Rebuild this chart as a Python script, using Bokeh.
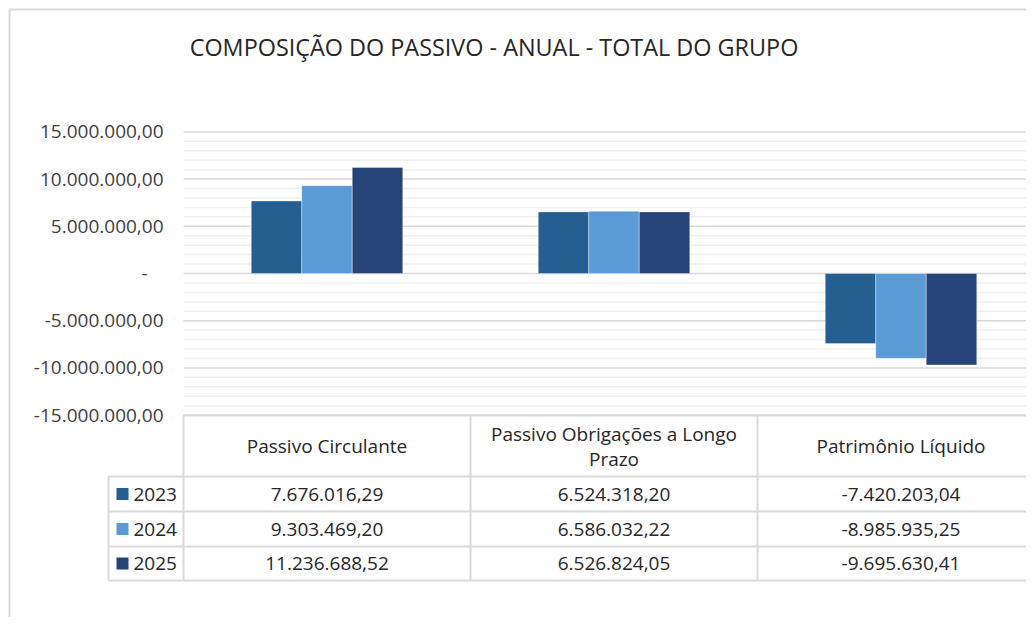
from bokeh.plotting import figure
from bokeh.models import Range1d
from bokeh.core.properties import value
from bokeh.embed import file_html
from bokeh.resources import INLINE

# ---------------- data ----------------
title = "COMPOSIÇÃO DO PASSIVO - ANUAL - TOTAL DO GRUPO"
categories = ["Passivo Circulante", "Passivo Obrigações a Longo Prazo", "Patrimônio Líquido"]
header_labels = ["Passivo Circulante", "Passivo Obrigações a Longo\nPrazo", "Patrimônio Líquido"]
years = ["2023", "2024", "2025"]
values_2023 = [7676016.29, 6524318.20, -7420203.04]
values_2024 = [9303469.20, 6586032.22, -8985935.25]
values_2025 = [11236688.52, 6526824.05, -9695630.41]
series = [values_2023, values_2024, values_2025]
colors = ["#255E91", "#5B9BD5", "#264478"]
y_ticks = [-15e6, -10e6, -5e6, 0, 5e6, 10e6, 15e6]
y_tick_labels = ["-15.000.000,00", "-10.000.000,00", "-5.000.000,00", "-",
                 "5.000.000,00", "10.000.000,00", "15.000.000,00"]
minor_step = 1e6

# ---------------- layout helpers (picture pixels -> data) ----------------
W, H = 1026, 617
X_ORIGIN = 183.0      # px where category 0 starts
CAT_W = 287.0         # px per category
Y_ZERO = 273.0        # px of value 0
PX_PER_UNIT = 9.44 / 1e6


def dx(px):
    return (px - X_ORIGIN) / CAT_W


def dy(py):
    return (Y_ZERO - py) / PX_PER_UNIT


def br(v):
    s = f"{v:,.2f}"
    return s.replace(",", "X").replace(".", ",").replace("X", ".")


FONT = value("Open Sans")
TXT = "#262626"
GRID_MAJOR = "#d9d9d9"
GRID_MINOR = "#f0f0f0"

p = figure(width=W, height=H,
           x_range=Range1d(dx(0), dx(W)),
           y_range=Range1d(dy(H), dy(0)),
           min_border=0, toolbar_location=None, output_backend="svg",
           x_axis_location=None, y_axis_location=None,
           outline_line_color=None, background_fill_color="white",
           border_fill_color="white")
p.grid.visible = False

x_left = dx(X_ORIGIN)
x_right = dx(W + 20)

# minor gridlines
lo, hi = y_ticks[0], y_ticks[-1]
n = int(round((hi - lo) / minor_step))
minor = [lo + k * minor_step for k in range(n + 1)]
minor = [m for m in minor if all(abs(m - t) > 1 for t in y_ticks)]
p.segment(x0=[x_left] * len(minor), x1=[x_right] * len(minor), y0=minor, y1=minor,
          line_color=GRID_MINOR, line_width=1.5)
# major gridlines
p.segment(x0=[x_left] * len(y_ticks), x1=[x_right] * len(y_ticks), y0=y_ticks, y1=y_ticks,
          line_color=GRID_MAJOR, line_width=1.5)

# bars
bar_w = 50.5 / CAT_W
offsets = [-bar_w, 0.0, bar_w]
for vals, col, off in zip(series, colors, offsets):
    xs = [i + 0.5 + off for i in range(len(categories))]
    p.vbar(x=xs, top=vals, bottom=0, width=bar_w, fill_color=col,
           line_color="white", line_alpha=0.35, line_width=1)

# y tick labels
tick_x = [dx(147) if lab == "-" else dx(163) for lab in y_tick_labels]
p.text(x=tick_x, y=y_ticks, text=y_tick_labels, text_align="right",
       text_baseline="middle", text_font=FONT, text_font_size="19px", text_color="#404040")

# title
p.text(x=[dx(493.5)], y=[dy(46)], text=[title], text_align="center",
       text_baseline="middle", text_font=FONT, text_font_size="23.4px", text_color=TXT)

# ---------------- data table ----------------
t_top, t_head_bot = 415, 476
row_lines = [476, 511, 546, 580]
leg_left = 108
col_lines = [X_ORIGIN + i * CAT_W for i in range(len(categories) + 1)]
TBL = "#d9d9d9"

# horizontal lines
p.segment(x0=[x_left], x1=[x_right], y0=[dy(t_top)], y1=[dy(t_top)],
          line_color=TBL, line_width=2)
p.segment(x0=[dx(leg_left)] * len(row_lines), x1=[x_right] * len(row_lines),
          y0=[dy(r) for r in row_lines], y1=[dy(r) for r in row_lines],
          line_color=TBL, line_width=2)
# vertical lines
p.segment(x0=[dx(c) for c in col_lines], x1=[dx(c) for c in col_lines],
          y0=[dy(t_top)] * len(col_lines), y1=[dy(row_lines[-1])] * len(col_lines),
          line_color=TBL, line_width=2)
p.segment(x0=[dx(leg_left)], x1=[dx(leg_left)], y0=[dy(row_lines[0])], y1=[dy(row_lines[-1])],
          line_color=TBL, line_width=2)

# header texts (each line drawn separately, centred as a block)
head_mid = (t_top + t_head_bot) / 2
LINE_H = 25.0
for i, lab in enumerate(header_labels):
    lines = lab.split("\n")
    first = head_mid - (len(lines) - 1) * LINE_H / 2
    p.text(x=[i + 0.5] * len(lines), y=[dy(first + j * LINE_H) for j in range(len(lines))],
           text=lines, text_align="center", text_baseline="middle",
           text_font=FONT, text_font_size="19px", text_color=TXT)

# rows
row_centers = [(row_lines[k] + row_lines[k + 1]) / 2 for k in range(len(years))]
for k, (yr, vals, col) in enumerate(zip(years, series, colors)):
    yc = dy(row_centers[k])
    p.scatter(x=[dx(122)], y=[yc], marker="square", size=12, fill_color=col, line_color=None)
    p.text(x=[dx(133)], y=[yc], text=[yr], text_align="left", text_baseline="middle",
           text_font=FONT, text_font_size="19px", text_color=TXT)
    p.text(x=[i + 0.5 for i in range(len(categories))], y=[yc] * len(vals),
           text=[br(v) for v in vals], text_align="center", text_baseline="middle",
           text_font=FONT, text_font_size="19px", text_color=TXT)

# chart frame border (left & top)
p.segment(x0=[dx(9), dx(9)], x1=[x_right, dx(9)], y0=[dy(9), dy(9)], y1=[dy(9), dy(H + 5)],
          line_color="#d9d9d9", line_width=2)

open("out.html", "w").write(file_html(p, INLINE))
